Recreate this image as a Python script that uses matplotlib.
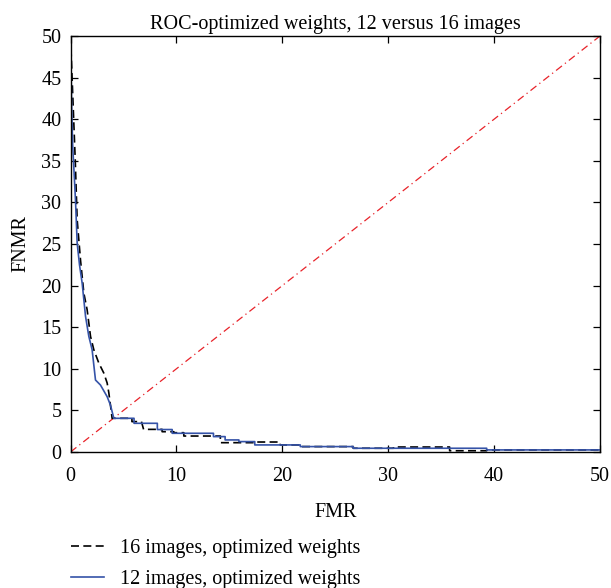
import matplotlib
matplotlib.use("Agg")
import matplotlib.pyplot as plt

title = "ROC-optimized weights, 12 versus 16 images"
xlabel = "FMR"
ylabel = "FNMR"
label16 = "16 images, optimized weights"
label12 = "12 images, optimized weights"

fmr16 = [0, 0.15, 0.3, 0.45, 0.63, 0.95, 1.26, 1.57, 1.89, 2.2, 2.67, 3.14, 3.46, 3.62, 3.77, 3.93,
         5.8, 5.8, 6.7, 6.9, 8.65, 8.65, 9.75, 9.75, 10.7, 10.7, 14.15, 14.15, 17.3, 17.3,
         19.8, 19.8, 21.7, 21.7, 26.7, 26.7, 30.5, 30.5, 35.8, 35.8, 39.3, 39.3, 50]
fnmr16 = [50, 45, 40, 35, 27.9, 23, 19.1, 17.1, 13.9, 12.3, 10.7, 9.5, 8.3, 7.1, 5.65, 4.05,
          4.05, 3.65, 3.65, 2.72, 2.72, 2.44, 2.44, 2.32, 2.32, 1.92, 1.92, 1.12, 1.12, 1.2,
          1.2, 0.85, 0.85, 0.65, 0.65, 0.45, 0.45, 0.6, 0.6, 0.15, 0.15, 0.25, 0.25]

fmr12 = [0, 0.1, 0.2, 0.47, 0.63, 0.85, 1.1, 1.42, 1.73, 2.04, 2.36, 2.83, 3.46, 3.77, 4.09,
         6.0, 6.0, 8.2, 8.2, 9.6, 9.6, 13.5, 13.5, 14.6, 14.6, 15.9, 15.9, 17.4, 17.4,
         21.7, 21.7, 26.7, 26.7, 39.3, 39.3, 50]
fnmr12 = [50, 42, 37, 30.3, 25.1, 22.5, 20.3, 16.3, 13.9, 12.3, 8.65, 8.05, 6.65, 5.65, 4.05,
          4.05, 3.45, 3.45, 2.7, 2.7, 2.25, 2.25, 1.85, 1.85, 1.45, 1.45, 1.25, 1.25, 0.85,
          0.85, 0.65, 0.65, 0.45, 0.45, 0.25, 0.25]

diag = [0, 50]
xticks = [0, 10, 20, 30, 40, 50]
yticks = [0, 5, 10, 15, 20, 25, 30, 35, 40, 45, 50]

plt.rcParams['font.family'] = ['Liberation Serif', 'DejaVu Serif']
FS = 14.5

W, H = 611, 588
fig = plt.figure(figsize=(W / 100, H / 100), dpi=100)
ax = fig.add_axes([70.5 / W, 1 - 452 / H, 529.5 / W, 416 / H])

ax.plot(diag, diag, color='#e8232a', lw=0.9, linestyle=(0, (6, 3, 1, 3)))
l16, = ax.plot(fmr16, fnmr16, color='black', lw=1.2, linestyle=(0, (4.8, 2.6)), label=label16)
l12, = ax.plot(fmr12, fnmr12, color='#3553a8', lw=1.2, label=label12)

ax.set_xlim(0, 50)
ax.set_ylim(0, 50)
ax.set_xticks(xticks)
ax.set_yticks(yticks)
ax.tick_params(direction='in', top=True, right=True, length=5, width=0.9, labelsize=FS)
ax.tick_params(axis='x', pad=10.5)
ax.tick_params(axis='y', pad=6.5)
for s in ax.spines.values():
    s.set_linewidth(1.0)
ax.set_title(title, fontsize=FS, pad=5)
ax.set_xlabel(xlabel, fontsize=FS, labelpad=12.7)
ax.set_ylabel(ylabel, fontsize=FS, labelpad=8)

fig.legend(handles=[l16, l12], loc='upper left', bbox_to_anchor=(71 / W, 1 - 539 / H),
           frameon=False, fontsize=FS, handlelength=1.64, handletextpad=0.8,
           labelspacing=0.59, borderpad=0, borderaxespad=0)

fig.savefig("out.png", dpi=100)
